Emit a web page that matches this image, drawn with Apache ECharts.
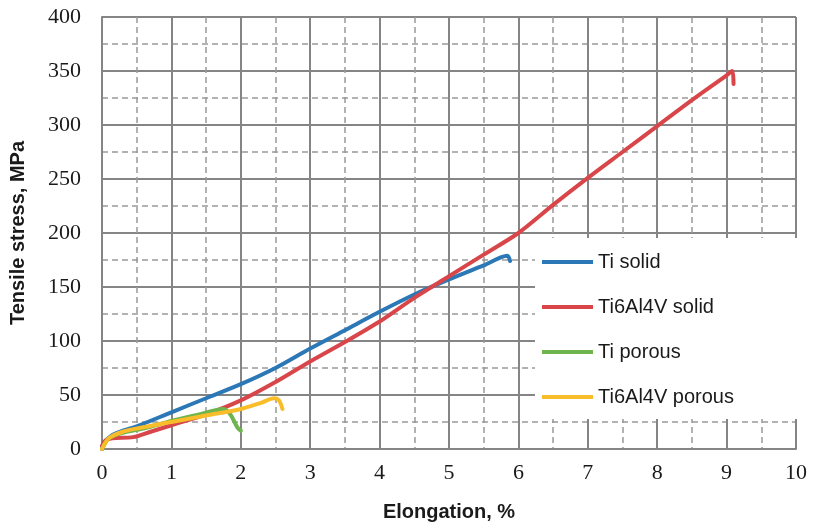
<!DOCTYPE html>
<html>
<head>
<meta charset="utf-8">
<script src="https://cdn.jsdelivr.net/npm/echarts@6/dist/echarts.min.js"></script>
<style>
  html, body { margin: 0; padding: 0; background: #fff; }
  #chart { width: 815px; height: 531px; }
</style>
</head>
<body>
<div id="chart"></div>
<script>
// Tensile stress vs. elongation curves
const seriesNames = ['Ti solid', 'Ti6Al4V solid', 'Ti porous', 'Ti6Al4V porous'];

const tiSolidX = [0, 0.05, 0.15, 0.3, 0.5, 1, 1.5, 2, 2.5, 3, 3.5, 4, 4.5, 5, 5.5, 5.84, 5.88];
const tiSolidY = [0, 7, 13, 17, 21, 34, 47, 60, 75, 93, 110, 127, 143, 157, 170, 179, 174];

const ti64SolidX = [0, 0.05, 0.15, 0.45, 0.7, 1, 1.5, 2, 2.5, 3, 3.5, 4, 4.5, 5, 5.5, 6, 6.5, 7, 7.5, 8, 8.5, 9, 9.08, 9.1];
const ti64SolidY = [3, 8, 10, 11, 16, 22, 32, 45, 62, 81, 99, 118, 140, 160, 180, 200, 226, 251, 275, 299, 323, 346, 350, 338];

const tiPorousX = [0, 0.1, 0.3, 0.6, 1, 1.4, 1.75, 1.85, 1.95, 2.0];
const tiPorousY = [0, 10, 15, 19, 26, 32, 37, 32, 20, 17];

const ti64PorousX = [0, 0.1, 0.3, 0.5, 1, 1.5, 2, 2.3, 2.48, 2.55, 2.6];
const ti64PorousY = [0, 10, 16, 19, 25, 31, 37, 43, 47, 45, 37];

const xTicks = { min: 0, max: 10, interval: 1 };
const yTicks = { min: 0, max: 400, interval: 50 };

const colors = ['#2c78b7', '#d8464a', '#6db54c', '#f9bd2a'];

function pairs(xs, ys) {
  return xs.map((x, i) => [x, ys[i]]);
}

const chart = echarts.init(document.getElementById('chart'), null, { renderer: 'canvas' });

const majorLine = { show: true, lineStyle: { color: '#858585', width: 2, type: 'solid' } };
const minorLine = { show: true, lineStyle: { color: '#999999', width: 1.5, type: [6, 4] } };

const datasets = [
  pairs(tiSolidX, tiSolidY),
  pairs(ti64SolidX, ti64SolidY),
  pairs(tiPorousX, tiPorousY),
  pairs(ti64PorousX, ti64PorousY)
];

chart.setOption({
  animation: false,
  color: colors,
  grid: { left: 102, top: 17, width: 694, height: 432, show: false },
  xAxis: {
    type: 'value',
    min: xTicks.min, max: xTicks.max, interval: xTicks.interval,
    name: 'Elongation, %',
    nameLocation: 'middle',
    nameGap: 53,
    nameTextStyle: { fontFamily: 'Liberation Sans', fontWeight: 'bold', fontSize: 20, color: '#1a1a1a' },
    axisLine: { show: true, lineStyle: { color: '#858585', width: 2 } },
    axisTick: { show: false },
    axisLabel: { fontFamily: 'Liberation Serif', fontSize: 22, color: '#1a1a1a', margin: 13 },
    splitLine: majorLine,
    minorTick: { show: false, splitNumber: 2 },
    minorSplitLine: minorLine
  },
  yAxis: {
    type: 'value',
    min: yTicks.min, max: yTicks.max, interval: yTicks.interval,
    name: 'Tensile stress, MPa',
    nameLocation: 'middle',
    nameGap: 74,
    nameTextStyle: { fontFamily: 'Liberation Sans', fontWeight: 'bold', fontSize: 20, color: '#1a1a1a' },
    axisLine: { show: true, lineStyle: { color: '#858585', width: 2 } },
    axisTick: { show: false },
    axisLabel: { fontFamily: 'Liberation Serif', fontSize: 22, color: '#1a1a1a', margin: 21 },
    splitLine: majorLine,
    minorTick: { show: false, splitNumber: 2 },
    minorSplitLine: minorLine
  },
  legend: {
    orient: 'vertical',
    left: 535,
    top: 238,
    padding: [14, 68, 12, 7],
    backgroundColor: '#ffffff',
    itemWidth: 51,
    itemHeight: 4,
    itemGap: 25,
    icon: 'rect',
    textStyle: { fontFamily: 'Liberation Sans', fontSize: 20, color: '#1a1a1a', lineHeight: 18 },
    data: seriesNames
  },
  series: seriesNames.map((name, i) => ({
    name: name,
    type: 'line',
    data: datasets[i],
    showSymbol: false,
    symbol: 'none',
    smooth: 0.3,
    lineStyle: { width: 4, color: colors[i], cap: 'round', join: 'round' },
    itemStyle: { color: colors[i] },
    z: 3 + i
  }))
});
</script>
</body>
</html>
